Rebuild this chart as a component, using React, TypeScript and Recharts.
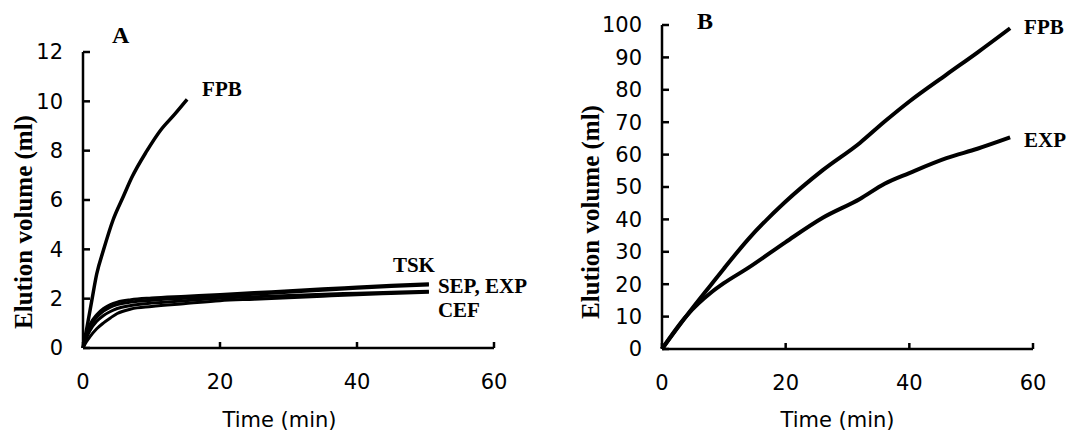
import { LineChart, Line, XAxis, YAxis, Label } from 'recharts';

// Panel A: elution volume (ml) vs time (min)
const timeFpbA = [0, 0.6, 1.3, 2, 3, 4.4, 5.9, 7.1, 9.3, 11.3, 13.3, 15.2];
const fpbA = [0, 0.87, 1.95, 3.0, 3.98, 5.2, 6.15, 6.9, 7.98, 8.82, 9.45, 10.08];

const timeA = [0, 0.5, 1, 2, 3, 4, 5, 7, 10, 15, 20, 25, 30, 35, 40, 45, 50.5];
const tskA = [0, 0.6, 0.95, 1.35, 1.6, 1.76, 1.86, 1.96, 2.03, 2.1, 2.17, 2.25, 2.32, 2.4, 2.47, 2.54, 2.6];
const sepA = [0, 0.5, 0.85, 1.25, 1.5, 1.66, 1.76, 1.86, 1.94, 2.02, 2.1, 2.18, 2.26, 2.34, 2.42, 2.49, 2.55];
const expA = [0, 0.4, 0.7, 1.08, 1.32, 1.48, 1.6, 1.72, 1.82, 1.92, 2.02, 2.08, 2.13, 2.18, 2.22, 2.26, 2.3];
const cefA = [0, 0.25, 0.45, 0.78, 1.02, 1.22, 1.4, 1.58, 1.68, 1.8, 1.92, 1.98, 2.04, 2.1, 2.16, 2.21, 2.26];

// Panel B
const timeB = [0, 4, 8, 10, 14, 20, 26, 32, 36, 40, 46, 51, 56.3];
const fpbB = [0, 10.3, 20, 24.8, 34, 45.5, 55.2, 63.6, 70.2, 76.4, 84.7, 91.5, 99];
const expB = [0, 10.3, 17.5, 20.3, 25.1, 33, 40.5, 46.3, 51, 54.3, 58.9, 61.8, 65.3];

const xTicks = [0, 20, 40, 60];
const yTicksA = [0, 2, 4, 6, 8, 10, 12];
const yTicksB = [0, 10, 20, 30, 40, 50, 60, 70, 80, 90, 100];

const fpbDataA = timeFpbA.map((t, i) => ({ t, v: fpbA[i] }));
const bundleA = timeA.map((t, i) => ({ t, tsk: tskA[i], sep: sepA[i], exp: expA[i], cef: cefA[i] }));
const dataB = timeB.map((t, i) => ({ t, fpb: fpbB[i], exp: expB[i] }));

const SANS = 'DejaVu Sans, Verdana, sans-serif';
const SERIF = 'Liberation Serif, Times New Roman, serif';
const tickStyle = { fill: '#000', fontSize: 21, fontFamily: SANS };
const axisLine = { stroke: '#000', strokeWidth: 2.5 };
const tickLine = { stroke: '#000', strokeWidth: 2.5 };

// draws a series name next to the last point of a line
function endLabel(text: string, last: number, dx: number, dy: number) {
  return (p: any) => {
    if (p.index !== last) return <g key={`e-${p.index}`} />;
    return (
      <text key={`e-${p.index}`} x={p.cx + dx} y={p.cy + dy} fontFamily={SERIF} fontWeight="bold" fontSize={21} fill="#000">
        {text}
      </text>
    );
  };
}

function yTitle(dx: number, dy: number) {
  return (props: any) => {
    const vb = props.viewBox;
    const x = vb.x + vb.width + dx;
    const y = vb.y + vb.height / 2 + dy;
    return (
      <text x={x} y={y} transform={`rotate(-90, ${x}, ${y})`} textAnchor="middle" fontFamily={SERIF} fontWeight="bold" fontSize={25} fill="#000">
        Elution volume (ml)
      </text>
    );
  };
}

function xTitle(dx: number, dy: number) {
  return (props: any) => {
    const vb = props.viewBox;
    return (
      <text x={vb.x + vb.width / 2 + dx} y={vb.y + dy} textAnchor="middle" fontFamily={SANS} fontSize={21} fill="#000">
        Time (min)
      </text>
    );
  };
}

export default function App() {
  return (
    <div style={{ position: 'absolute', left: 0, top: 0, width: 1069, height: 434, background: '#fff' }}>
      <div style={{ position: 'absolute', left: 0, top: 0 }}>
        <LineChart width={540} height={434} margin={{ top: 52, left: 82, right: 46, bottom: 85 }}>
          <XAxis type="number" dataKey="t" domain={[0, 60]} ticks={xTicks} height={1}
            axisLine={axisLine} tickLine={tickLine} tickSize={-6} tickMargin={32} tick={tickStyle}>
            <Label content={xTitle(-9, 79)} />
          </XAxis>
          <YAxis type="number" domain={[0, 12]} ticks={yTicksA} width={1}
            axisLine={axisLine} tickLine={tickLine} tickSize={-7} tickMargin={27} tick={tickStyle}>
            <Label content={yTitle(-51, 22)} />
          </YAxis>
          <Line data={fpbDataA} dataKey="v" type="monotone" stroke="#000" strokeWidth={3.5}
            dot={endLabel('FPB', fpbA.length - 1, 15, -3)} activeDot={false} isAnimationActive={false} />
          <Line data={bundleA} dataKey="tsk" type="monotone" stroke="#000" strokeWidth={3}
            dot={endLabel('TSK', timeA.length - 1, -36, -12)} activeDot={false} isAnimationActive={false} />
          <Line data={bundleA} dataKey="sep" type="monotone" stroke="#000" strokeWidth={3}
            dot={endLabel('SEP, EXP', timeA.length - 1, 9, 8)} activeDot={false} isAnimationActive={false} />
          <Line data={bundleA} dataKey="exp" type="monotone" stroke="#000" strokeWidth={3}
            dot={false} activeDot={false} isAnimationActive={false} />
          <Line data={bundleA} dataKey="cef" type="monotone" stroke="#000" strokeWidth={3}
            dot={endLabel('CEF', timeA.length - 1, 9, 25)} activeDot={false} isAnimationActive={false} />
        </LineChart>
      </div>
      <div style={{ position: 'absolute', left: 540, top: 0 }}>
        <LineChart width={529} height={434} data={dataB} margin={{ top: 25, left: 121, right: 36, bottom: 84 }}>
          <XAxis type="number" dataKey="t" domain={[0, 60]} ticks={xTicks} height={1}
            axisLine={axisLine} tickLine={tickLine} tickSize={-6} tickMargin={32} tick={tickStyle}>
            <Label content={xTitle(-10, 78)} />
          </XAxis>
          <YAxis type="number" domain={[0, 100]} ticks={yTicksB} width={1}
            axisLine={axisLine} tickLine={tickLine} tickSize={-7} tickMargin={27} tick={tickStyle}>
            <Label content={yTitle(-63, 25)} />
          </YAxis>
          <Line dataKey="fpb" type="monotone" stroke="#000" strokeWidth={4}
            dot={endLabel('FPB', timeB.length - 1, 14, 6)} activeDot={false} isAnimationActive={false} />
          <Line dataKey="exp" type="monotone" stroke="#000" strokeWidth={4}
            dot={endLabel('EXP', timeB.length - 1, 14, 10)} activeDot={false} isAnimationActive={false} />
        </LineChart>
      </div>
      <svg width={1069} height={434} style={{ position: 'absolute', left: 0, top: 0, pointerEvents: 'none' }}>
        <text x={112} y={43} fontFamily={SERIF} fontWeight="bold" fontSize={24} fill="#000">A</text>
        <text x={697} y={29} fontFamily={SERIF} fontWeight="bold" fontSize={24} fill="#000">B</text>
      </svg>
    </div>
  );
}
